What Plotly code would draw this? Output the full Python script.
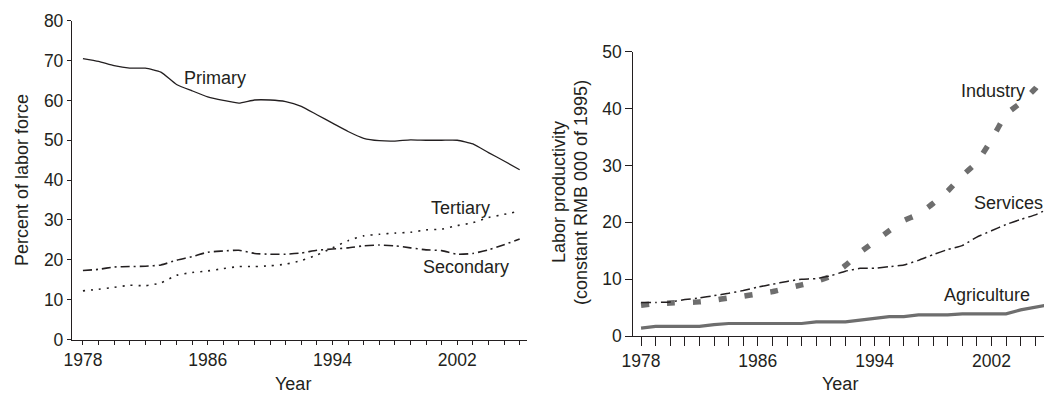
import plotly.graph_objects as go

years = list(range(1978, 2007))

primary = [70.5, 69.8, 68.7, 68.1, 68.1, 67.1, 64.0, 62.4, 60.9, 60.0, 59.3, 60.1, 60.1, 59.7,
           58.5, 56.4, 54.3, 52.2, 50.5, 49.9, 49.8, 50.1, 50.0, 50.0, 50.0, 49.1, 46.9, 44.8, 42.6]
secondary = [17.3, 17.6, 18.2, 18.3, 18.4, 18.7, 19.9, 20.8, 21.9, 22.2, 22.4, 21.6, 21.4, 21.4,
             21.7, 22.4, 22.7, 23.0, 23.5, 23.7, 23.5, 23.0, 22.5, 22.3, 21.4, 21.6, 22.5, 23.8, 25.2]
tertiary = [12.2, 12.6, 13.1, 13.6, 13.5, 14.2, 16.1, 16.8, 17.2, 17.8, 18.3, 18.3, 18.5, 18.9,
            19.8, 21.2, 23.0, 24.8, 26.0, 26.4, 26.7, 26.9, 27.5, 27.7, 28.6, 29.3, 30.6, 31.4, 32.2]

agriculture = [1.4, 1.7, 1.7, 1.7, 1.7, 2.0, 2.2, 2.2, 2.2, 2.2, 2.2, 2.2, 2.5, 2.5,
               2.5, 2.8, 3.1, 3.4, 3.4, 3.7, 3.7, 3.7, 3.9, 3.9, 3.9, 3.9, 4.6, 5.0, 5.5]
industry = [5.4, 5.7, 5.8, 5.9, 6.0, 6.3, 6.7, 7.0, 7.4, 7.8, 8.4, 9.0, 9.6, 10.5,
            12.4, 14.7, 16.6, 18.5, 20.3, 21.4, 23.3, 25.5, 28.2, 30.5, 34.5, 39.0, 41.0, 43.5, 47.0]
services = [5.9, 5.9, 6.0, 6.4, 6.7, 7.1, 7.5, 8.0, 8.6, 9.1, 9.6, 10.0, 10.1, 10.6,
            11.4, 11.9, 11.9, 12.2, 12.5, 13.3, 14.3, 15.2, 15.9, 17.4, 18.5, 19.6, 20.5, 21.3, 22.5]

left_yticks = [0, 10, 20, 30, 40, 50, 60, 70, 80]
right_yticks = [0, 10, 20, 30, 40, 50]
xtick_labels = [1978, 1986, 1994, 2002]

# page offset (default body margin) and figure size
OFF = 8
W, H = 1052 - OFF, 394 - OFF
INK = "#231f20"
GRAY = "#6e6e6e"
FONT = "Liberation Sans, Arial, sans-serif"
FS = 18
TFS = 17.5


def px(x):
    return (x - OFF) / W


def py(y):
    return 1 - (y - OFF) / H


fig = go.Figure()

fig.add_trace(go.Scatter(x=years, y=primary, mode="lines", xaxis="x", yaxis="y",
                         line=dict(color=INK, width=1.3, shape="spline", smoothing=0.5)))
fig.add_trace(go.Scatter(x=years, y=secondary, mode="lines", xaxis="x", yaxis="y",
                         line=dict(color=INK, width=1.6, dash="9px,4px,2px,4px",
                                   shape="spline", smoothing=0.6)))
fig.add_trace(go.Scatter(x=years, y=tertiary, mode="lines", xaxis="x", yaxis="y",
                         line=dict(color=INK, width=1.6, dash="2px,6px",
                                   shape="spline", smoothing=0.6)))

fig.add_trace(go.Scatter(x=years, y=agriculture, mode="lines", xaxis="x2", yaxis="y2",
                         line=dict(color=GRAY, width=3.2)))
fig.add_trace(go.Scatter(x=years, y=industry, mode="lines", xaxis="x2", yaxis="y2",
                         line=dict(color=GRAY, width=5.5, dash="8px,18px",
                                   shape="spline", smoothing=0.3)))
fig.add_trace(go.Scatter(x=years, y=services, mode="lines", xaxis="x2", yaxis="y2",
                         line=dict(color=INK, width=1.5, dash="10px,4px,2px,4px",
                                   shape="spline", smoothing=0.4)))

axis_common = dict(showgrid=False, zeroline=False, showline=True, linecolor=INK, linewidth=1.3,
                   ticks="outside", tickcolor=INK, tickwidth=1.2, automargin=False,
                   tickfont=dict(family=FONT, size=TFS, color=INK), fixedrange=True)

fig.update_layout(
    width=W, height=H,
    margin=dict(l=0, r=0, t=0, b=0, pad=0, autoexpand=False),
    paper_bgcolor="white", plot_bgcolor="white",
    showlegend=False,
    font=dict(family=FONT, size=FS, color=INK),
    xaxis=dict(axis_common, domain=[px(72), px(527)], range=[1977.3, 2006.47],
               tickvals=xtick_labels, ticklen=4, anchor="y",
               minor=dict(dtick=1, tick0=1977, ticks="outside", ticklen=4, tickcolor=INK, tickwidth=1.2)),
    yaxis=dict(axis_common, domain=[py(339.5), py(20.7)], range=[0, 80],
               tickvals=left_yticks, ticklen=4, anchor="x"),
    xaxis2=dict(axis_common, domain=[px(633.3), 1.0], range=[1977.47, 2006.15],
                tickvals=xtick_labels, ticklen=9, anchor="y2",
                minor=dict(dtick=1, tick0=1977, ticks="outside", ticklen=9, tickcolor=INK, tickwidth=1.2)),
    yaxis2=dict(axis_common, domain=[py(336), py(51.7)], range=[0, 50],
                tickvals=right_yticks, ticklen=7, anchor="x2"),
)

ann = []


def label(text, x, y, size=FS, angle=0):
    ann.append(dict(text=text, x=px(x), y=py(y), xref="paper", yref="paper",
                    showarrow=False, xanchor="center", yanchor="middle", textangle=angle,
                    font=dict(family=FONT, size=size, color=INK)))


label("Percent of labor force", 22, 180, angle=-90)
label("Year", 293, 384)
label("Year", 840, 384)
label("Labor productivity", 559, 192, angle=-90)
label("(constant RMB 000 of 1995)", 581, 193, angle=-90)
label("Primary", 215, 78)
label("Tertiary", 460, 208)
label("Secondary", 466, 267)
label("Industry", 993, 91)
label("Services", 1008, 203)
label("Agriculture", 987, 295)

fig.update_layout(annotations=ann)

fig.write_html("out.html")
